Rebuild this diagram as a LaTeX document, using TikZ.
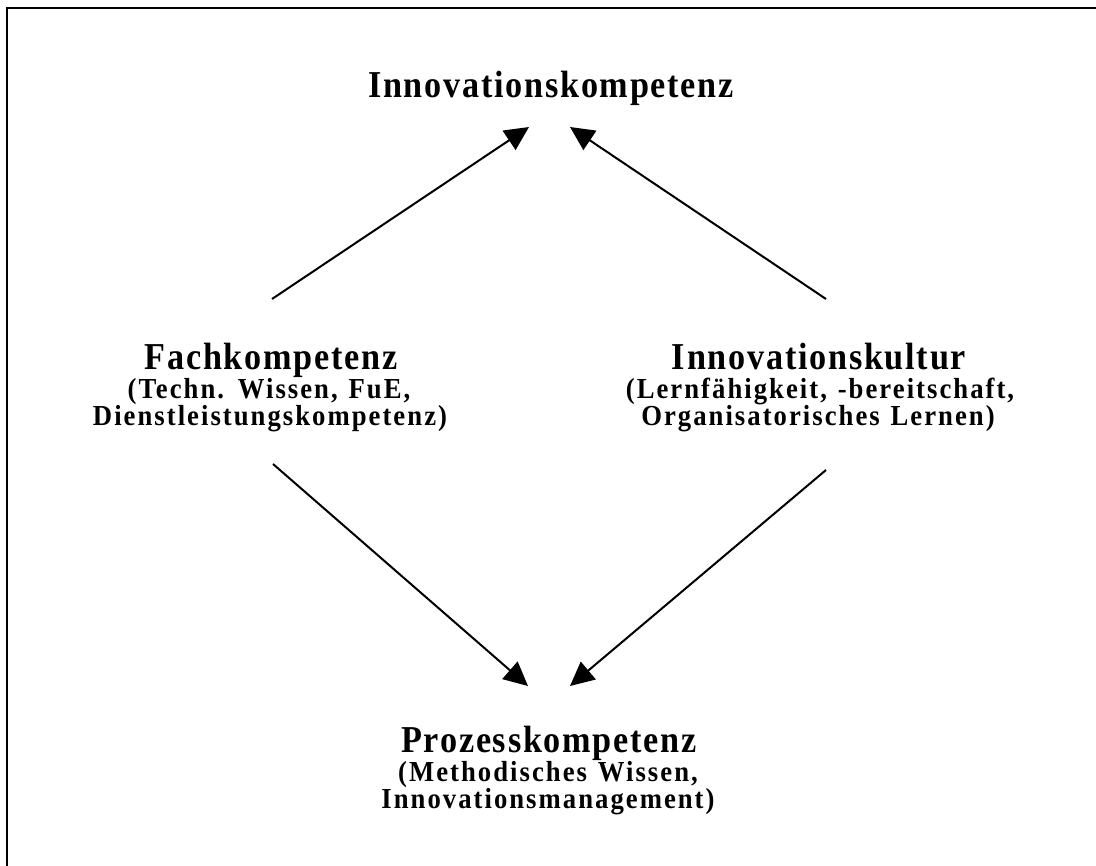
\documentclass[tikz,border=0pt]{standalone}
\usepackage{fontspec}
\newfontfamily\hdfont{Liberation Serif Bold}[LetterSpace=4.6,FakeStretch=0.9]
\newfontfamily\sbfont{Liberation Serif Bold}[LetterSpace=7,FakeStretch=0.92,WordSpace=1.25]
\usetikzlibrary{arrows.meta}
\begin{document}
\begin{tikzpicture}[x=1pt,y=-1pt,
  head/.style={font=\hdfont\fontsize{38}{40}\selectfont, inner sep=0pt, anchor=base},
  sub/.style={font=\sbfont\fontsize{29}{32}\selectfont, inner sep=0pt, anchor=base},
  conn/.style={line width=2pt, -{Triangle[length=24pt,width=23pt]}},
  frame/.style={line width=2pt}]
\useasboundingbox (0,0) rectangle (1096,866);
\draw[frame] (7,866) -- (7,8) -- (1096,8);

\node[head] (ik) at (551,98) {Innovationskompetenz};

\node[head] (fk) at (271,370) {Fachkompetenz};
\node[sub] (fk2) at (269,399) {(Techn. Wissen, FuE,};
\node[sub] (fk3) at (270,426) {Dienstleistungskompetenz)};

\node[head] (kul) at (819,370) {Innovationskultur};
\node[sub] (kul2) at (820,399) {(Lernfähigkeit, -bereitschaft,};
\node[sub] (kul3) at (818,426) {Organisatorisches Lernen)};

\node[head] (pk) at (549,752) {Prozesskompetenz};
\node[sub] (pk2) at (548,781) {(Methodisches Wissen,};
\node[sub] (pk3) at (548,808) {Innovationsmanagement)};

\coordinate (a1) at (272,299);
\coordinate (t1) at (529,127);
\coordinate (a2) at (826,299);
\coordinate (t2) at (570,127);
\coordinate (a3) at (273,464);
\coordinate (t3) at (528,686);
\coordinate (a4) at (826,470);
\coordinate (t4) at (570,686);

\draw[conn] (a1) -- (t1);
\draw[conn] (a2) -- (t2);
\draw[conn] (a3) -- (t3);
\draw[conn] (a4) -- (t4);
\end{tikzpicture}
\end{document}
